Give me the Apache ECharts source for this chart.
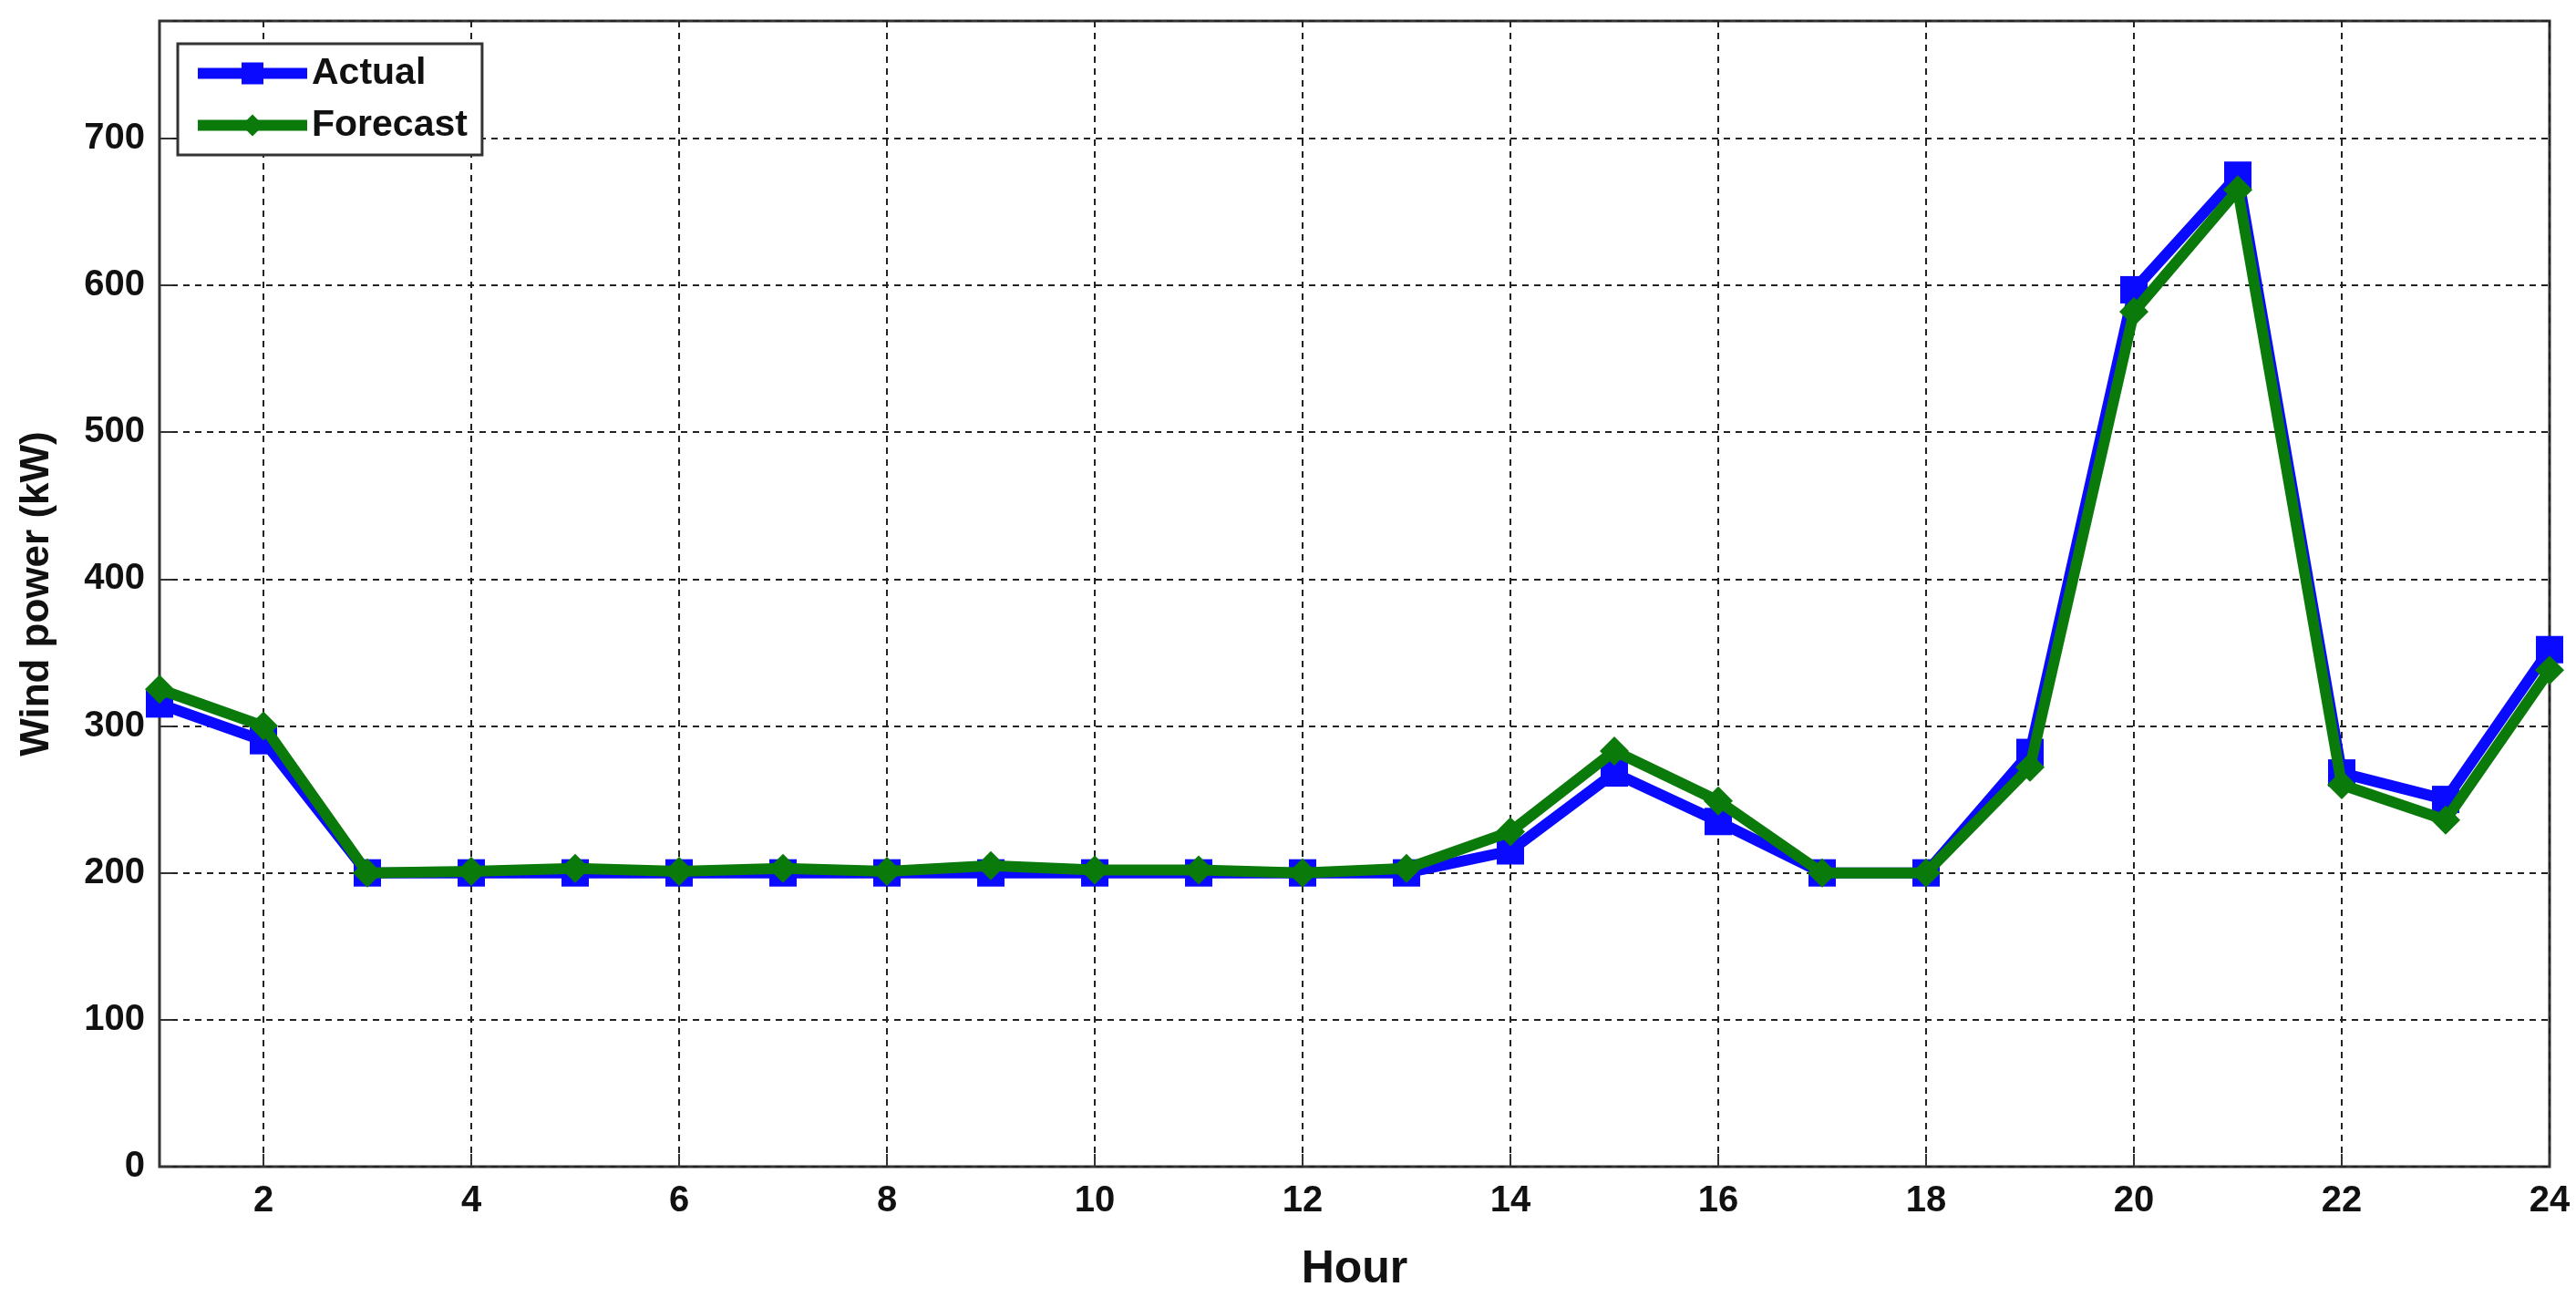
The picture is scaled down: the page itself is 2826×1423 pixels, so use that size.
<!DOCTYPE html>
<html><head><meta charset="utf-8">
<script src="https://cdn.jsdelivr.net/npm/echarts@6/dist/echarts.min.js"></script>
<style>html,body{margin:0;padding:0;background:#fff}#c{width:2826px;height:1423px}</style>
</head><body><div id="c"></div>
<script>
const hours = [1,2,3,4,5,6,7,8,9,10,11,12,13,14,15,16,17,18,19,20,21,22,23,24];
const actual = [315,290,200,200,200,200,200,200,200,200,200,200,200,215,268,235,200,200,282,597,675,268,250,352];
const forecast = [325,300,200,201,203,201,203,201,205,202,202,200,203,228,283,249,200,200,272,582,665,260,236,338];
const xTicks = [2,4,6,8,10,12,14,16,18,20,22,24];
const font = 'Arial, "Liberation Sans", sans-serif';
const chart = echarts.init(document.getElementById('c'));
const grid = {type:[7,6], color:'#222', width:2};
chart.setOption({
  animation:false,
  backgroundColor:'#fff',
  grid:{left:175,right:29,top:23,bottom:134,show:true,borderColor:'#333',borderWidth:3},
  legend:{
    orient:'vertical', left:195, top:48, backgroundColor:'#fff',
    borderColor:'#333', borderWidth:3, padding:[12,16,12,16], itemGap:16,
    itemWidth:120, itemHeight:30,
    lineStyle:{width:12},
    textStyle:{fontFamily:font,fontWeight:'bold',fontSize:41,color:'#111'},
    data:['Actual','Forecast']
  },
  xAxis:{type:'value',min:1,max:24,
    name:'Hour',nameLocation:'middle',nameGap:88,
    nameTextStyle:{fontFamily:font,fontWeight:'bold',fontSize:50,color:'#111'},
    axisLine:{show:false},
    axisTick:{show:true,inside:true,length:14,customValues:xTicks,lineStyle:{color:'#333',width:2}},
    axisLabel:{customValues:xTicks,fontFamily:font,fontWeight:'bold',fontSize:40,color:'#111',margin:18},
    splitLine:{show:true,lineStyle:grid}
  },
  yAxis:{type:'value',min:0,max:780,interval:100,
    name:'Wind power (kW)',nameLocation:'middle',nameGap:112,nameRotate:90,
    nameTextStyle:{fontFamily:font,fontWeight:'bold',fontSize:44,color:'#111'},
    axisLine:{show:false},
    axisTick:{show:true,inside:true,length:14,lineStyle:{color:'#333',width:2}},
    axisLabel:{fontFamily:font,fontWeight:'bold',fontSize:40,color:'#111',margin:16,
      formatter:v=> (v%100===0? String(v):'')},
    splitLine:{show:true,lineStyle:grid}
  },
  series:[
    {name:'Actual',type:'line',data:hours.map((h,i)=>[h,actual[i]]),
     symbol:'rect',symbolSize:30,lineStyle:{width:12,color:'#0a0aff'},
     itemStyle:{color:'#0a0aff'},z:2},
    {name:'Forecast',type:'line',data:hours.map((h,i)=>[h,forecast[i]]),
     symbol:'diamond',symbolSize:32,lineStyle:{width:12,color:'#0a7a0a'},
     itemStyle:{color:'#0a7a0a'},z:3}
  ]
});
</script></body></html>
